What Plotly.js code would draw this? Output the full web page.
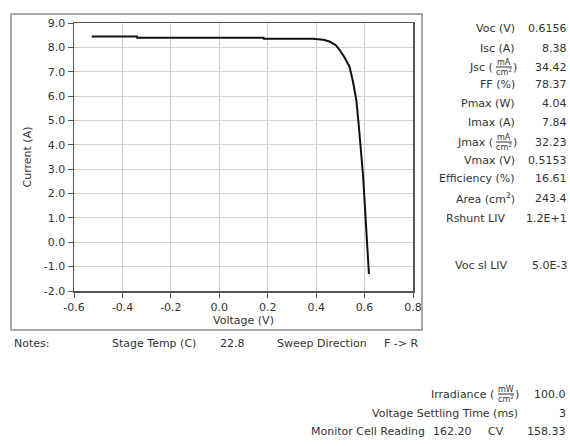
<!DOCTYPE html>
<html><head><meta charset="utf-8">
<script src="https://cdn.plot.ly/plotly-3.0.1.min.js"></script>
<style>html,body{margin:0;padding:0;background:#fff;}#chart{width:570px;height:446px;}</style>
</head><body><div id="chart"></div>
<script>
// ---- data ----
const voltage = [-0.527, -0.34, -0.339, 0.183, 0.184, 0.385, 0.43, 0.455, 0.48, 0.497, 0.518, 0.538, 0.552, 0.566, 0.576, 0.586, 0.594, 0.600, 0.607, 0.613, 0.618];
const current = [8.45, 8.45, 8.39, 8.39, 8.35, 8.35, 8.31, 8.24, 8.10, 7.90, 7.57, 7.20, 6.60, 5.83, 4.80, 3.77, 2.70, 1.70, 0.33, -0.60, -1.30];
const xTickVals = [-0.6, -0.4, -0.2, 0.0, 0.2, 0.4, 0.6, 0.8];
const xTickText = ["-0.6", "-0.4", "-0.2", "0.0", "0.2", "0.4", "0.6", "0.8"];
const yTickVals = [-2, -1, 0, 1, 2, 3, 4, 5, 6, 7, 8, 9];
const yTickText = ["-2.0", "-1.0", "0.0", "1.0", "2.0", "3.0", "4.0", "5.0", "6.0", "7.0", "8.0", "9.0"];
const resultLabels = ["Voc (V)", "Isc (A)", "Jsc", "FF (%)", "Pmax (W)", "Imax (A)", "Jmax", "Vmax (V)", "Efficiency (%)", "Area (cm<sup>2</sup>)", "Rshunt LIV", "Voc sl LIV"];
const resultValues = ["0.6156", "8.38", "34.42", "78.37", "4.04", "7.84", "32.23", "0.5153", "16.61", "243.4", "1.2E+1", "5.0E-3"];
const notesItems = ["Notes:", "Stage Temp (C)", "22.8", "Sweep Direction", "F -> R"];
const bottomLabels = ["Irradiance", "Voltage Settling Time (ms)", "Monitor Cell Reading"];
const bottomValues = ["100.0", "3", "162.20", "CV", "158.33"];

// ---- layout helpers (pixel -> paper) ----
const W = 570, H = 446;
const M = {l: 74, r: 157, t: 23, b: 155};
const PW = W - M.l - M.r, PH = H - M.t - M.b;
const px = x => (x - M.l) / PW;
const py = y => 1 - (y - M.t) / PH;
const FONT = "DejaVu Sans, Verdana, sans-serif";
const TXT = "#333";
const ann = [];
function T(text, x, y, anchor, size) {
  ann.push({text: text, xref: "paper", yref: "paper", x: px(x), y: py(y),
    xanchor: anchor || "right", yanchor: "middle", showarrow: false,
    font: {family: FONT, size: size || 11, color: TXT}});
}
const shapes = [];
function fraction(num, cx, cy) {
  T(num, cx, cy - 5, "center", 8);
  T("cm<sup>2</sup>", cx, cy + 5, "center", 8);
  shapes.push({type: "line", xref: "paper", yref: "paper", x0: px(cx - 8), x1: px(cx + 8),
    y0: py(cy), y1: py(cy), line: {color: TXT, width: 1}});
}

// results panel
const rowY = [29, 48, 67, 84, 103, 122, 142, 160, 178, 198, 218, 265];
const labelRight = [517, 517, 519, 517, 517, 517, 519, 517, 517, 517, 507, 510];
resultLabels.forEach((lab, i) => {
  if (lab === "Jsc" || lab === "Jmax") {
    T(")", labelRight[i], rowY[i], "right");
    fraction("mA", labelRight[i] - 15, rowY[i]);
    T(lab + " (", labelRight[i] - 24, rowY[i], "right");
  } else {
    T(lab, labelRight[i], rowY[i], "right");
  }
  T(resultValues[i], 569, rowY[i], "right");
});

// notes row
T(notesItems[0], 12, 343, "left");
T(notesItems[1], 110, 343, "left");
T(notesItems[2], 218, 343, "left");
T(notesItems[3], 275, 343, "left");
T(notesItems[4], 421, 343, "right");

// bottom block
T(")", 521, 394, "right");
fraction("mW", 506, 394);
T(bottomLabels[0] + " (", 496, 394, "right");
T(bottomValues[0], 568, 394, "right");
T(bottomLabels[1], 520, 413, "right");
T(bottomValues[1], 568, 413, "right");
T(bottomLabels[2], 427, 431, "right");
T(bottomValues[2], 474, 431, "right");
T(bottomValues[3], 486, 431, "left");
T(bottomValues[4], 568, 431, "right");

// outer frame
shapes.push({type: "rect", xref: "paper", yref: "paper", x0: px(11), x1: px(422), y0: py(14), y1: py(330),
  line: {color: "#a8a8a8", width: 2}, fillcolor: "rgba(0,0,0,0)", layer: "below"});

const trace = {x: voltage, y: current, type: "scatter", mode: "lines",
  line: {color: "#111", width: 2}, hoverinfo: "skip"};

const layout = {
  width: W, height: H, margin: M, showlegend: false,
  paper_bgcolor: "#fff", plot_bgcolor: "#fff",
  font: {family: FONT, size: 11, color: TXT},
  xaxis: {range: [-0.6, 0.8], tickvals: xTickVals, ticktext: xTickText,
    showgrid: true, gridcolor: "#d0d0d0", gridwidth: 1, zeroline: false,
    showline: true, linecolor: "#555", linewidth: 1.5, mirror: true,
    ticks: "outside", ticklen: 5, tickcolor: "#555",
    tickfont: {family: FONT, size: 11, color: TXT},
    title: {text: "Voltage (V)", font: {family: FONT, size: 11, color: TXT}, standoff: 2}},
  yaxis: {range: [-2, 9], tickvals: yTickVals, ticktext: yTickText,
    showgrid: true, gridcolor: "#d0d0d0", gridwidth: 1, zeroline: false,
    showline: true, linecolor: "#555", linewidth: 1.5, mirror: true,
    ticks: "outside", ticklen: 5, tickcolor: "#555",
    tickfont: {family: FONT, size: 11, color: TXT},
    title: {text: "Current (A)", font: {family: FONT, size: 11, color: TXT}, standoff: 10}},
  annotations: ann, shapes: shapes
};
Plotly.newPlot("chart", [trace], layout, {staticPlot: true, displayModeBar: false});
</script></body></html>
